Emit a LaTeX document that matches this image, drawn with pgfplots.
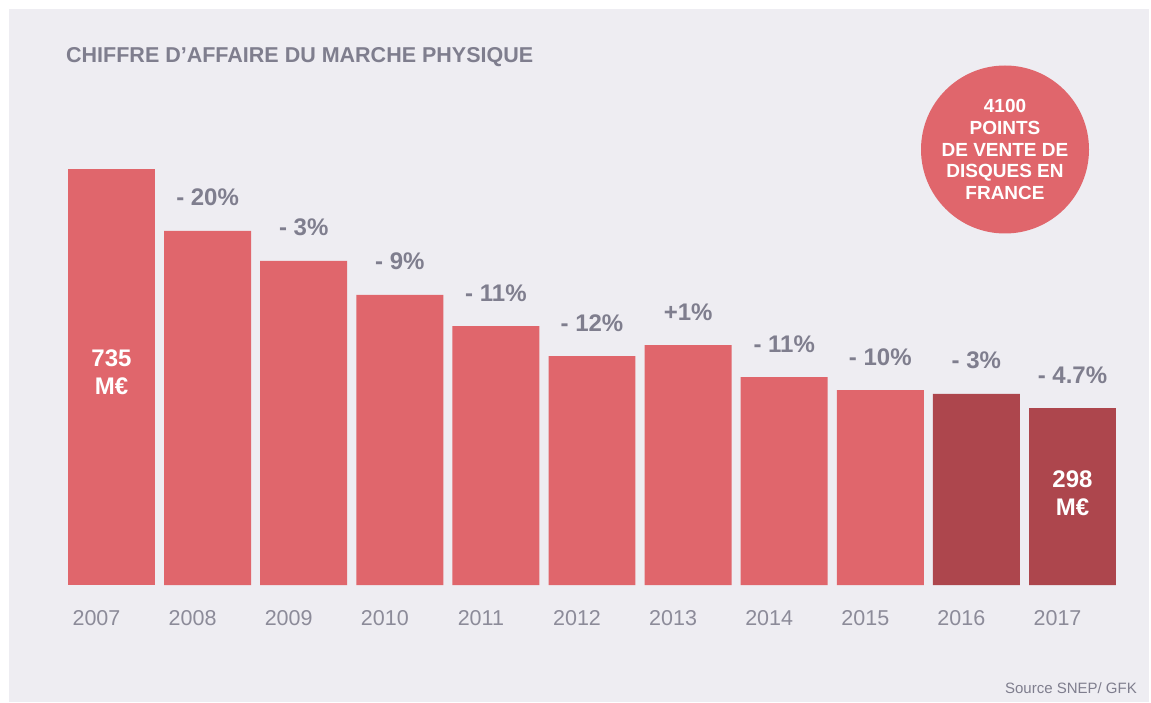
\documentclass[border=0pt]{standalone}
\usepackage{pgfplots}
\pgfplotsset{compat=1.18}
\usepackage{fontspec}
\setmainfont{Liberation Sans}
\definecolor{bgc}{HTML}{EEEDF2}
\definecolor{barc}{HTML}{E0666C}
\definecolor{darkc}{HTML}{AD464D}
\definecolor{txtc}{HTML}{7F7E8E}
\definecolor{yearc}{HTML}{8C8B99}
\begin{document}
\begin{tikzpicture}[x=1pt,y=1pt]
\fill[white] (0,0) rectangle (1151,702);
\fill[bgc] (9,0) rectangle (1149,693);
\node[anchor=base west, text=txtc, font=\fontsize{21.5}{24}\selectfont\bfseries, inner sep=0pt] at (66,639.7) {CHIFFRE D’AFFAIRE DU MARCHE PHYSIQUE};
\node[anchor=base east, text=txtc, font=\fontsize{15}{18}\selectfont, inner sep=0pt] at (1137,9) {Source SNEP/ GFK};
\begin{axis}[
  at={(63.45pt,117pt)}, anchor=south west,
  scale only axis, width=1057.1pt, height=452.79pt,
  xmin=-0.5, xmax=10.5, ymin=0, ymax=800,
  axis line style={draw=none}, major tick length=0pt,
  ytick=\empty,
  xtick={0,1,2,3,4,5,6,7,8,9,10},
  xticklabels={2007,2008,2009,2010,2011,2012,2013,2014,2015,2016,2017},
  xticklabel style={anchor=base, yshift=-40.7pt, xshift=-15pt, text=yearc, font=\fontsize{21.5}{24}\selectfont},
  /pgf/number format/assume math mode=true,
  clip=false,
  ybar, bar width=0.905,
  point meta=explicit symbolic,
  every node near coord/.append style={anchor=base, yshift=25pt, text=txtc, font=\fontsize{24}{28}\selectfont\bfseries},
]
\addplot[fill=barc, draw=none, bar shift=0pt] coordinates {(0,735.0)};
\addplot[fill=barc, draw=none, bar shift=0pt, nodes near coords] coordinates {
(1,625.5) [{- 20\%}]
(2,572.5) [{- 3\%}]
(3,512.4) [{- 9\%}]
(4,457.6) [{- 11\%}]
(5,404.6) [{- 12\%}]
(6,424.0) [{+1\%}]
(7,367.5) [{- 11\%}]
(8,344.5) [{- 10\%}]
};
\addplot[fill=darkc, draw=none, bar shift=0pt, nodes near coords] coordinates {
(9,337.5) [{- 3\%}]
(10,312.7) [{- 4.7\%}]
};
\node[align=center, text=white, font=\fontsize{24}{28}\selectfont\bfseries] at (axis cs:0,375.4) {735\\M€};
\node[align=center, text=white, font=\fontsize{24}{28}\selectfont\bfseries] at (axis cs:10,162.5) {298\\M€};
\end{axis}
\fill[barc] (1005,552.5) circle (84);
\node[align=center, text=white, font=\fontsize{19}{21.75}\selectfont\bfseries] at (1005,552.5) {4100\\POINTS\\DE VENTE DE\\DISQUES EN\\FRANCE};
\end{tikzpicture}
\end{document}
